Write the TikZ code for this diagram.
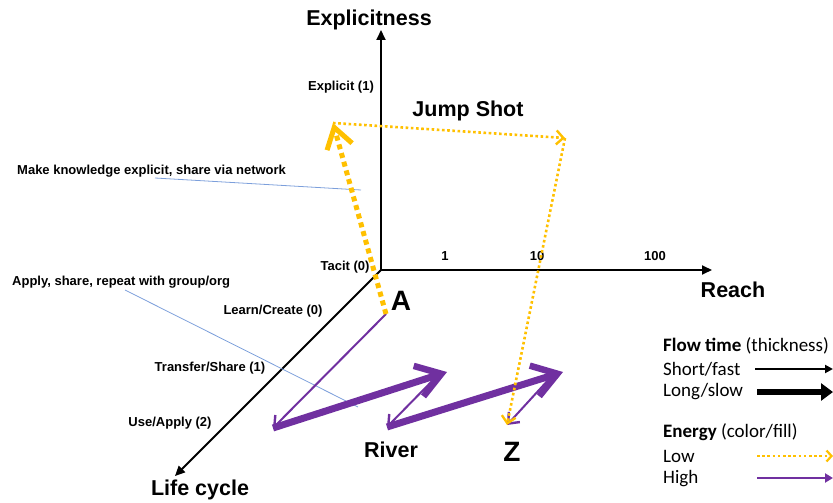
\documentclass[tikz,border=0pt]{standalone}
\usepackage{fontspec}
\setmainfont{Liberation Sans}
\newfontfamily\legendfont{Carlito}
\usetikzlibrary{arrows.meta}
\definecolor{energylow}{HTML}{FFC000}
\definecolor{energyhigh}{HTML}{7030A0}
\definecolor{leaderblue}{HTML}{7C9FDB}
\begin{document}
\begin{tikzpicture}[x=1pt,y=-1pt,
  axis/.style={line width=1.8pt,-{Triangle[length=10pt,width=9pt]}},
  axislabel/.style={font=\bfseries\fontsize{21.5}{25}\selectfont,inner sep=0pt},
  bigletter/.style={font=\bfseries\fontsize{28}{30}\selectfont,inner sep=0pt},
  small/.style={font=\bfseries\fontsize{13}{15}\selectfont,inner sep=0pt},
  note/.style={small,anchor=west},
  leader/.style={draw=leaderblue,line width=0.8pt},
  lowthick/.style={draw=energylow,line width=5pt,dash pattern=on 5pt off 4pt,
    -{Straight Barb[length=20pt,width=26pt,line width=5pt]}},
  lowthin/.style={draw=energylow,line width=2.6pt,dash pattern=on 2.6pt off 2.6pt,
    -{Straight Barb[length=7pt,width=14pt,line width=2.4pt]}},
  highthin/.style={draw=energyhigh,line width=2pt,
    -{Straight Barb[length=9pt,width=15pt,line width=2.4pt]}},
  highthick/.style={draw=energyhigh,line width=7pt,
    -{Straight Barb[length=24pt,width=32pt,line width=6.5pt]}},
  legendtext/.style={font=\legendfont\fontsize{19}{22}\selectfont,anchor=west,inner sep=0pt}
]
\useasboundingbox (0,0) rectangle (833,503);

% axes
\coordinate (O) at (381,270);
\coordinate (ytip) at (381,30);
\coordinate (xtip) at (712,270);
\coordinate (ztip) at (175,476);
\draw[axis] (O) -- (ytip);
\draw[axis] (O) -- (xtip);
\draw[axis] (O) -- (ztip);

\node[axislabel] (explicitness) at (369,20) {Explicitness};
\node[axislabel] (reach) at (733,290) {Reach};
\node[axislabel] (lifecycle) at (200,490) {Life cycle};

% axis scale labels
\node[small] (explicit) at (341,87) {Explicit (1)};
\node[small] (tacit) at (345,267) {Tacit (0)};
\node[small] (r1) at (445,256) {1};
\node[small] (r10) at (537,256) {10};
\node[small] (r100) at (655,256) {100};
\node[small] (learn) at (273,311) {Learn/Create (0)};
\node[small] (transfer) at (210,368) {Transfer/Share (1)};
\node[small] (use) at (170,423) {Use/Apply (2)};

% annotations with leader lines
\node[note] (explain) at (17,171) {Make knowledge explicit, share via network};
\node[note] (apply) at (12,282) {Apply, share, repeat with group/org};
\coordinate (explainA) at (155,178);
\coordinate (explainB) at (361,190);
\coordinate (applyA) at (125,290);
\coordinate (applyB) at (358,407);
\draw[leader] (explainA) -- (explainB);
\draw[leader] (applyA) -- (applyB);

% path points
\coordinate (A) at (386,314);
\coordinate (J1) at (333,123);
\coordinate (J2) at (565,138);
\coordinate (Zp) at (507,425);
\coordinate (R1) at (273,428);
\coordinate (R2) at (447,372);
\coordinate (R2b) at (436,377);
\coordinate (R3) at (387,427);
\coordinate (R4) at (563,372);
\coordinate (R4b) at (550,378);

% river path (high energy)
\draw[highthin] (A) -- (R1);
\draw[highthick] (R1) -- (R2);
\draw[highthin] (R2b) -- (R3);
\draw[highthick] (R3) -- (R4);
\draw[highthin] (R4b) -- (Zp);

% jump shot path (low energy)
\draw[lowthick] (A) -- (J1);
\draw[lowthin] (J1) -- (J2);
\draw[lowthin] (J2) -- (Zp);

\node[bigletter] (labA) at (401,301) {A};
\node[bigletter] (labZ) at (512,452) {Z};
\node[axislabel] (river) at (391,450) {River};
\node[axislabel] (jump) at (468,111) {Jump Shot};

% legend
\node[legendtext] (flow) at (663,346) {\textbf{Flow time} (thickness)};
\node[legendtext] (short) at (663,369) {Short/fast};
\node[legendtext] (long) at (663,392) {Long/slow};
\node[legendtext] (energy) at (663,432) {\textbf{Energy} (color/fill)};
\node[legendtext] (low) at (663,456) {Low};
\node[legendtext] (high) at (663,479) {High};
\coordinate (shortA) at (755,369); \coordinate (shortB) at (833,369);
\coordinate (longA) at (757,392);  \coordinate (longB) at (833,392);
\coordinate (lowA) at (757,456);   \coordinate (lowB) at (833,456);
\coordinate (highA) at (757,478);  \coordinate (highB) at (833,478);
\draw[line width=2pt,-{Triangle[length=8pt,width=8pt]}] (shortA) -- (shortB);
\draw[line width=6pt,-{Triangle[length=12pt,width=17pt]}] (longA) -- (longB);
\draw[draw=energylow,line width=2.6pt,dash pattern=on 2.6pt off 2.6pt,
  -{Straight Barb[length=5pt,width=11pt,line width=2.2pt]}] (lowA) -- (lowB);
\draw[draw=energyhigh,line width=2.6pt,-{Triangle[length=8pt,width=9pt]}] (highA) -- (highB);
\end{tikzpicture}
\end{document}
